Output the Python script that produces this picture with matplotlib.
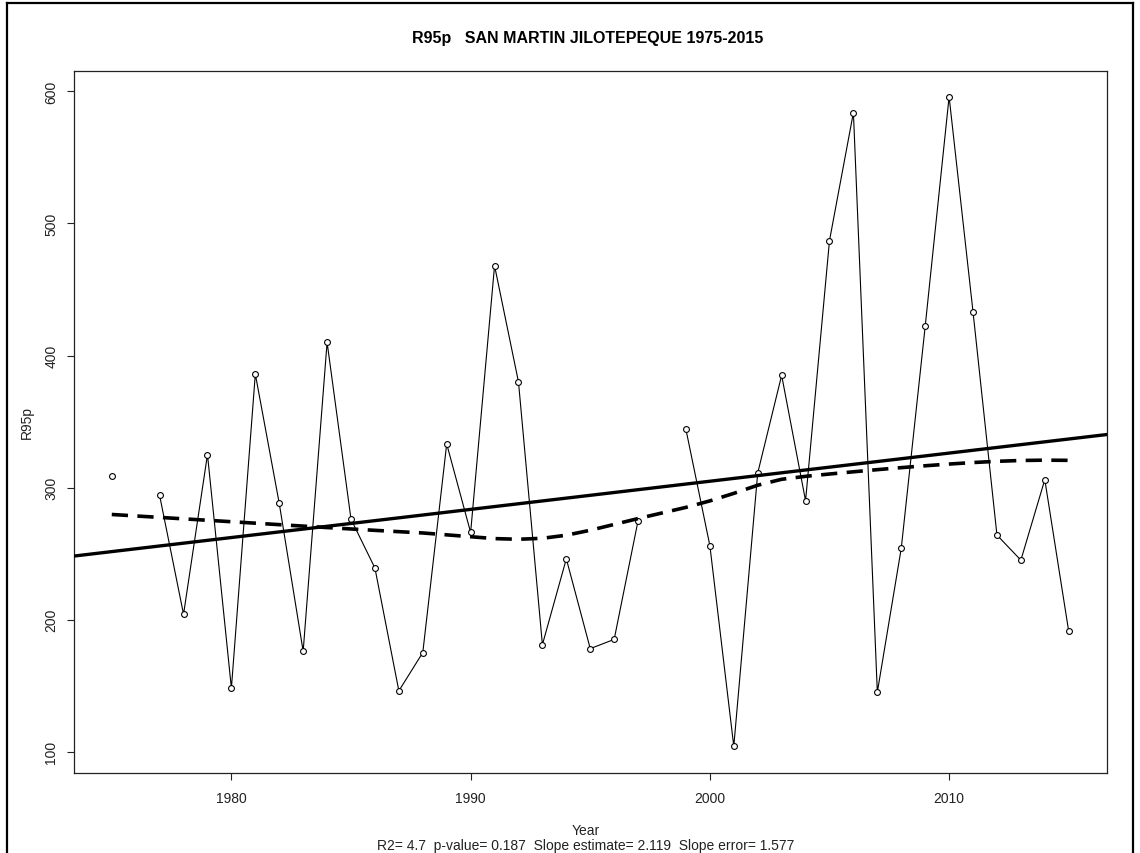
import numpy as np
import matplotlib
matplotlib.use("Agg")
import matplotlib.pyplot as plt
from matplotlib.lines import Line2D

plt.rcParams['font.family'] = ['Liberation Sans', 'DejaVu Sans']

years = np.arange(1975, 2016)
r95p = [308.5, np.nan, 294, 204, 325, 148, 386, 288, 176, 410,
        276, 239, 146, 175, 333, 266, 468, 380, 181, 246,
        178, 185, 275, np.nan, 344, 256, 104, 311, 385, 290,
        487, 584, 145, 254, 422, 596, 433, 264, 245, 306,
        191]
title = "R95p   SAN MARTIN JILOTEPEQUE 1975-2015"
subtitle = "R2= 4.7  p-value= 0.187  Slope estimate= 2.119  Slope error= 1.577"
xticks = [1980, 1990, 2000, 2010]
yticks = [100, 200, 300, 400, 500, 600]


def lowess(x, y, f=2 / 3, iters=3):
    # same idea as R's lowess(): local linear fit with tricube weights
    n = len(x)
    ns = max(2, min(n, int(f * n + 1e-7)))
    rw = np.ones(n)
    fit = np.zeros(n)
    for it in range(iters + 1):
        for i in range(n):
            d = np.abs(x - x[i])
            h = np.sort(d)[ns - 1]
            u = np.clip(d / h, 0, 1)
            w = (1 - u ** 3) ** 3 * rw
            sw = w.sum()
            xm = (w * x).sum() / sw
            ym = (w * y).sum() / sw
            den = (w * (x - xm) ** 2).sum()
            b = (w * (x - xm) * (y - ym)).sum() / den if den > 0 else 0
            fit[i] = ym + b * (x[i] - xm)
        res = y - fit
        m = np.median(np.abs(res))
        if m == 0:
            break
        u = np.clip(res / (6 * m), -1, 1)
        rw = (1 - u ** 2) ** 2
    return fit


W, H = 1140, 854
fig = plt.figure(figsize=(W / 100, H / 100), dpi=100)
L, R, T, B = 73.5, 1107, 71.7, 774
ax = fig.add_axes([L / W, 1 - B / H, (R - L) / W, (B - T) / H])

y = np.array(r95p, dtype=float)
ok = ~np.isnan(y)
ax.plot(years, y, color='black', lw=0.8, zorder=2)
ax.plot(years, y, 'o', ms=4.2, mfc='white', mec='black', mew=0.8, zorder=3)

slope, icpt = np.polyfit(years[ok], y[ok], 1)
ax.axline((years[0], icpt + slope * years[0]), slope=slope, color='black', lw=2.4, zorder=4)

sm = lowess(years[ok].astype(float), y[ok])
ax.plot(years[ok], sm, color='black', lw=2.6, dashes=(4.5, 2.6), zorder=4)

ax.set_xlim(1975 - 1.6, 2015 + 1.6)
ax.set_ylim(103.5 - 19.7, 596 + 19.7)
ax.set_xticks(xticks)
ax.set_yticks(yticks)
ax.tick_params(direction='out', length=5, width=0.8, colors='#222222', labelsize=10)
ax.tick_params(axis='x', pad=8)
ax.tick_params(axis='y', pad=6)
for lab in ax.get_yticklabels():
    lab.set_rotation(90)
    lab.set_va('center')
for s in ax.spines.values():
    s.set_linewidth(0.9)
    s.set_color('#222222')

fig.text(588 / W, 1 - 38 / H, title, ha='center', va='center', fontsize=11.5, fontweight='bold')
fig.text(26.5 / W, 1 - 423 / H, "R95p", rotation=90, ha='center', va='center', fontsize=10, color='#222222')
fig.text(586 / W, 1 - 831 / H, "Year", ha='center', va='center', fontsize=10, color='#222222')
fig.text(586 / W, 1 - 846 / H, subtitle, ha='center', va='center', fontsize=10, color='#222222')

# outer frame of the exported picture
bx0, bx1, by0 = 7 / W, 1133 / W, 1 - 4 / H
for xs, ys in [([bx0, bx0], [0, by0]), ([bx0, bx1], [by0, by0]), ([bx1, bx1], [by0, 0])]:
    fig.add_artist(Line2D(xs, ys, color='black', lw=1.6, transform=fig.transFigure))

fig.savefig("out.png", dpi=100)
